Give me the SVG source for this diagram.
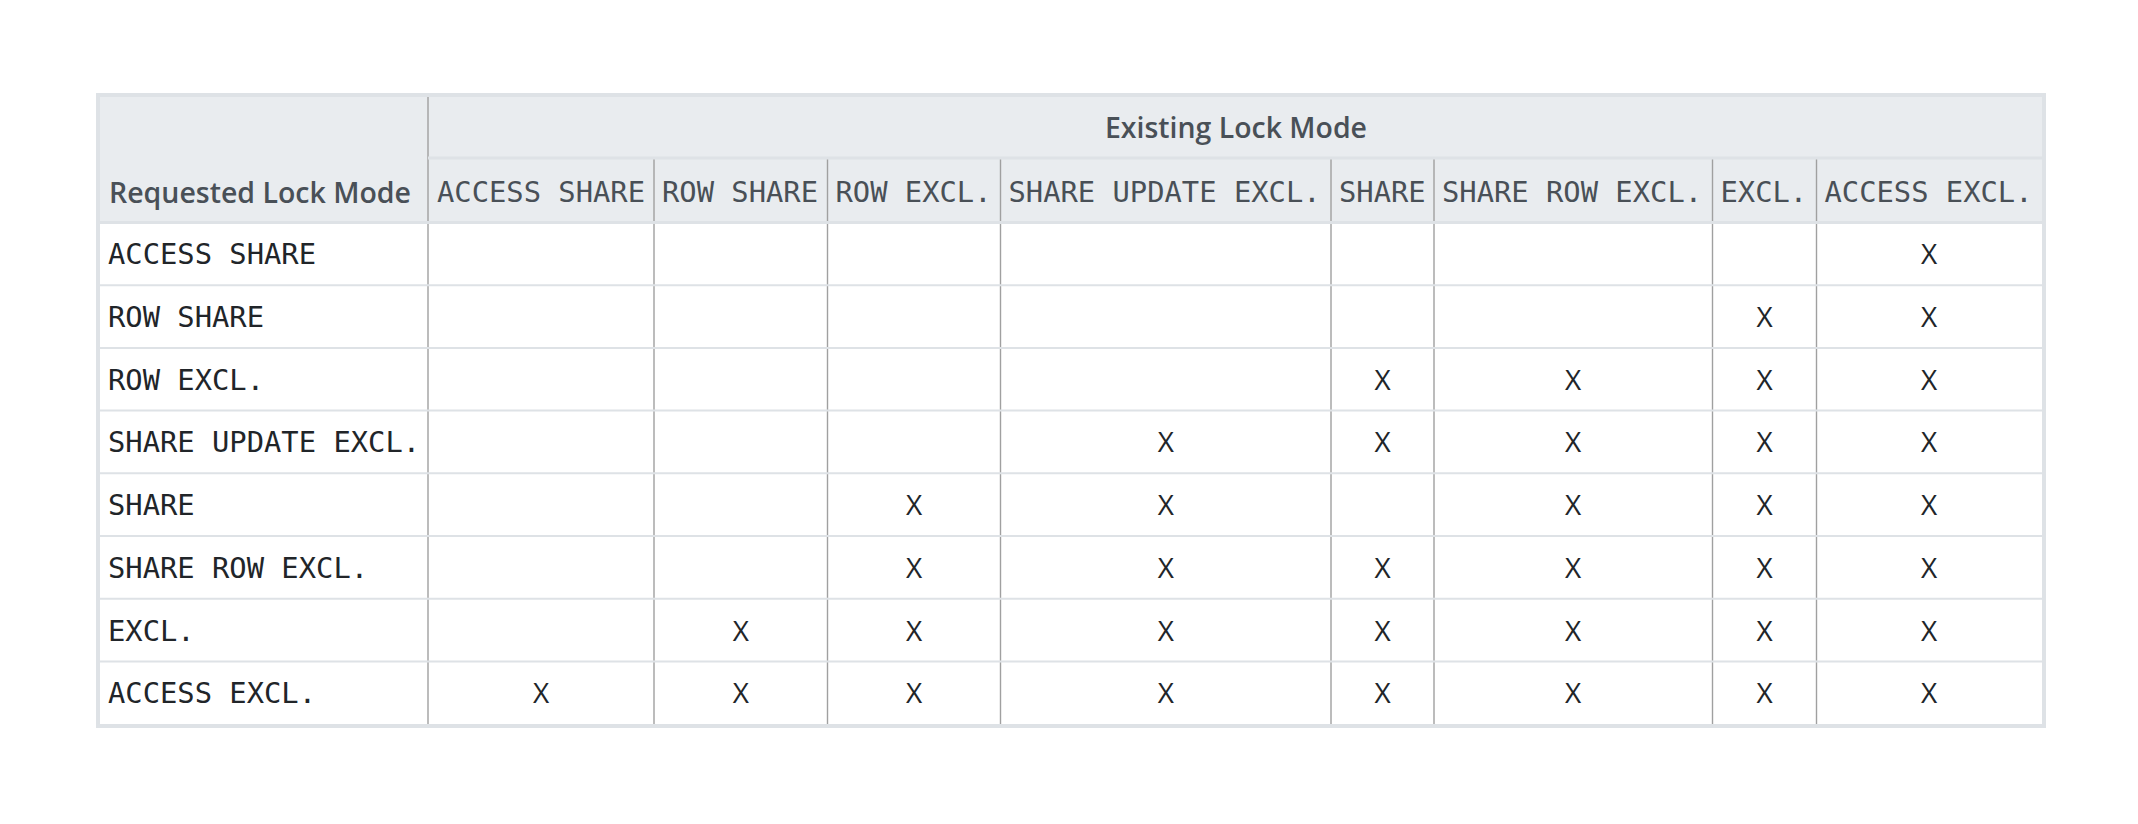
<svg xmlns="http://www.w3.org/2000/svg" width="2138" height="824" viewBox="0 0 2138 824">
<style>
.hb{font-family:"Open Sans","Liberation Sans",sans-serif;font-weight:600;font-size:29px;fill:#495057}
.hm{font-family:"DejaVu Sans Mono","Liberation Mono",monospace;font-size:28.8px;fill:#495057}
.bm{font-family:"DejaVu Sans Mono","Liberation Mono",monospace;font-size:28.8px;fill:#212529}
.x{font-family:"Open Sans","Liberation Sans",sans-serif;font-size:28px;fill:#212529;text-anchor:middle}
.hl{stroke:#dee2e6;fill:none}
.vl{stroke:#a0a0a0;stroke-width:1.4;fill:none}
</style>
<rect width="2138" height="824" fill="#ffffff"/>
<g id="header-bg">
<rect x="98" y="95" width="1946" height="127.5" fill="#e9ecef"/>
</g>
<g id="grid">
<path class="vl" d="M428 97V724"/>
<path class="vl" d="M654 159V724M827.5 159V724M1000.5 159V724M1331 159V724M1434 159V724M1712.5 159V724M1816.5 159V724"/>
<path class="hl" stroke-width="3" d="M428 158H2044"/>
<path class="hl" stroke-width="3" d="M98 222.5H2044"/>
<path class="hl" stroke-width="2" d="M98 285.2H2044M98 347.9H2044M98 410.6H2044M98 473.3H2044M98 536H2044M98 598.7H2044M98 661.4H2044"/>
<rect class="hl" stroke-width="4" x="98" y="95" width="1946" height="631"/>
</g>
<g id="header">
<text class="hb" x="1105" y="138" textLength="262" lengthAdjust="spacingAndGlyphs">Existing Lock Mode</text>
<text class="hb" x="109" y="202.5" textLength="302" lengthAdjust="spacingAndGlyphs">Requested Lock Mode</text>
<text class="hm" x="437" y="202" xml:space="preserve">ACCESS SHARE</text>
<text class="hm" x="662" y="202" xml:space="preserve">ROW SHARE</text>
<text class="hm" x="835.5" y="202" xml:space="preserve">ROW EXCL.</text>
<text class="hm" x="1008.5" y="202" xml:space="preserve">SHARE UPDATE EXCL.</text>
<text class="hm" x="1339" y="202">SHARE</text>
<text class="hm" x="1442" y="202" xml:space="preserve">SHARE ROW EXCL.</text>
<text class="hm" x="1720.5" y="202">EXCL.</text>
<text class="hm" x="1824.5" y="202" xml:space="preserve">ACCESS EXCL.</text>
</g>
<g id="row-access-share">
<text class="bm" x="108" y="264.3">ACCESS SHARE</text>
<text class="x" x="1929" y="264.3">X</text>
</g>
<g id="row-row-share">
<text class="bm" x="108" y="327">ROW SHARE</text>
<text class="x" x="1764.5" y="327">X</text>
<text class="x" x="1929" y="327">X</text>
</g>
<g id="row-row-excl">
<text class="bm" x="108" y="389.7">ROW EXCL.</text>
<text class="x" x="1382.5" y="389.7">X</text>
<text class="x" x="1573" y="389.7">X</text>
<text class="x" x="1764.5" y="389.7">X</text>
<text class="x" x="1929" y="389.7">X</text>
</g>
<g id="row-share-update-excl">
<text class="bm" x="108" y="452.4">SHARE UPDATE EXCL.</text>
<text class="x" x="1165.8" y="452.4">X</text>
<text class="x" x="1382.5" y="452.4">X</text>
<text class="x" x="1573" y="452.4">X</text>
<text class="x" x="1764.5" y="452.4">X</text>
<text class="x" x="1929" y="452.4">X</text>
</g>
<g id="row-share">
<text class="bm" x="108" y="515">SHARE</text>
<text class="x" x="914" y="515">X</text>
<text class="x" x="1165.8" y="515">X</text>
<text class="x" x="1573" y="515">X</text>
<text class="x" x="1764.5" y="515">X</text>
<text class="x" x="1929" y="515">X</text>
</g>
<g id="row-share-row-excl">
<text class="bm" x="108" y="577.8">SHARE ROW EXCL.</text>
<text class="x" x="914" y="577.8">X</text>
<text class="x" x="1165.8" y="577.8">X</text>
<text class="x" x="1382.5" y="577.8">X</text>
<text class="x" x="1573" y="577.8">X</text>
<text class="x" x="1764.5" y="577.8">X</text>
<text class="x" x="1929" y="577.8">X</text>
</g>
<g id="row-excl">
<text class="bm" x="108" y="640.5">EXCL.</text>
<text class="x" x="740.8" y="640.5">X</text>
<text class="x" x="914" y="640.5">X</text>
<text class="x" x="1165.8" y="640.5">X</text>
<text class="x" x="1382.5" y="640.5">X</text>
<text class="x" x="1573" y="640.5">X</text>
<text class="x" x="1764.5" y="640.5">X</text>
<text class="x" x="1929" y="640.5">X</text>
</g>
<g id="row-access-excl">
<text class="bm" x="108" y="703.2">ACCESS EXCL.</text>
<text class="x" x="541" y="703.2">X</text>
<text class="x" x="740.8" y="703.2">X</text>
<text class="x" x="914" y="703.2">X</text>
<text class="x" x="1165.8" y="703.2">X</text>
<text class="x" x="1382.5" y="703.2">X</text>
<text class="x" x="1573" y="703.2">X</text>
<text class="x" x="1764.5" y="703.2">X</text>
<text class="x" x="1929" y="703.2">X</text>
</g>
</svg>
